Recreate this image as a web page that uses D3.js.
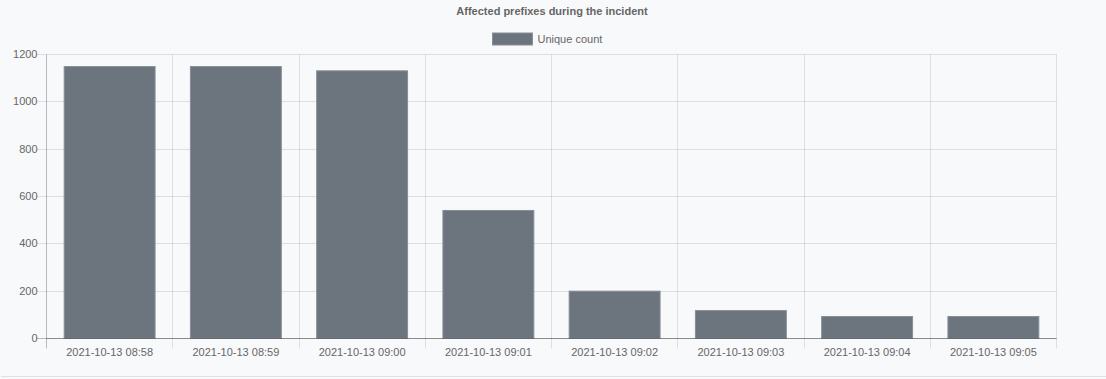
<!DOCTYPE html>
<html>
<head>
<meta charset="utf-8">
<script src="https://cdn.jsdelivr.net/npm/d3@7"></script>
<style>
html,body{margin:0;padding:0;background:#f8f9fa;}
svg{display:block;}
text{font-family:"Liberation Sans",Arial,Helvetica,sans-serif;fill:#666;}
</style>
</head>
<body>
<svg id="chart" width="1106" height="379"></svg>
<script>
const categories = ["2021-10-13 08:58","2021-10-13 08:59","2021-10-13 09:00","2021-10-13 09:01","2021-10-13 09:02","2021-10-13 09:03","2021-10-13 09:04","2021-10-13 09:05"];
const uniqueCount = [1149, 1149, 1131, 541, 200, 118, 93, 93];
const yTicks = [0, 200, 400, 600, 800, 1000, 1200];
const seriesName = "Unique count";
const titleText = "Affected prefixes during the incident";

const W = 1106, H = 379;
const m = {left: 46.5, right: 1056.5, top: 54.5, bottom: 338.5};
const FS = "11px";
const svg = d3.select("#chart");

svg.append("line").attr("x1",1).attr("x2",W).attr("y1",376.5).attr("y2",376.5)
  .attr("stroke","#dee2e6").attr("stroke-width",1);

const x = d3.scaleBand().domain(categories).range([m.left, m.right]).paddingInner(0).paddingOuter(0);
const y = d3.scaleLinear().domain([0,1200]).range([m.bottom, m.top]);

// horizontal grid + y ticks
const gy = svg.append("g");
yTicks.forEach(t => {
  const yy = Math.round(y(t) - 0.5) + 0.5;
  gy.append("line").attr("x1", m.left - 10).attr("x2", m.right).attr("y1", yy).attr("y2", yy)
    .attr("stroke", t === 0 ? "rgba(0,0,0,0.25)" : "rgba(0,0,0,0.1)");
  gy.append("text").attr("x", m.left - 9).attr("y", yy).attr("dy","0.35em")
    .attr("text-anchor","end").style("font-size",FS).text(t);
});

// vertical grid lines
const bounds = categories.map(c => x(c)).concat([m.right]);
bounds.forEach((b,i) => {
  const xx = Math.round(b - 0.5) + 0.5;
  svg.append("line").attr("x1", xx).attr("x2", xx).attr("y1", m.top).attr("y2", m.bottom + 10)
    .attr("stroke", i === 0 ? "rgba(0,0,0,0.25)" : "rgba(0,0,0,0.1)");
});

// bars
const bw = x.bandwidth() * 0.72;
svg.append("g").selectAll("rect").data(categories).join("rect")
  .attr("x", (c) => x(c) + (x.bandwidth() - bw)/2)
  .attr("y", (c,i) => y(uniqueCount[i]))
  .attr("width", bw)
  .attr("height", (c,i) => y(0) - y(uniqueCount[i]))
  .attr("fill", "#6c757d")
  .attr("stroke", "#868e96").attr("stroke-width", 1);

// redraw zero line over bars
svg.append("line").attr("x1", m.left).attr("x2", m.right).attr("y1", m.bottom).attr("y2", m.bottom)
  .attr("stroke","rgba(0,0,0,0.25)");

// x labels
svg.append("g").selectAll("text").data(categories).join("text")
  .attr("x", c => x(c) + x.bandwidth()/2).attr("y", 352).attr("dy","0.35em")
  .attr("text-anchor","middle").style("font-size",FS).text(c => c);

// title
svg.append("text").attr("x", (m.left + m.right)/2 + 0.5).attr("y", 11).attr("dy","0.35em")
  .attr("text-anchor","middle").style("font-size",FS).style("font-weight","bold").text(titleText);

// legend
const lg = svg.append("g");
const lt = lg.append("text").attr("y", 39).attr("dy","0.35em").style("font-size",FS).text(seriesName);
const tw = lt.node().getComputedTextLength();
const total = 40 + 5 + tw;
const lx = Math.round((m.left + m.right)/2 - total/2 - 5) + 0.5;
lg.append("rect").attr("x", lx).attr("y", 33).attr("width", 40).attr("height", 12)
  .attr("fill","#6c757d").attr("stroke","#868e96").attr("stroke-width",1);
lt.attr("x", lx + 45);
</script>
</body>
</html>
